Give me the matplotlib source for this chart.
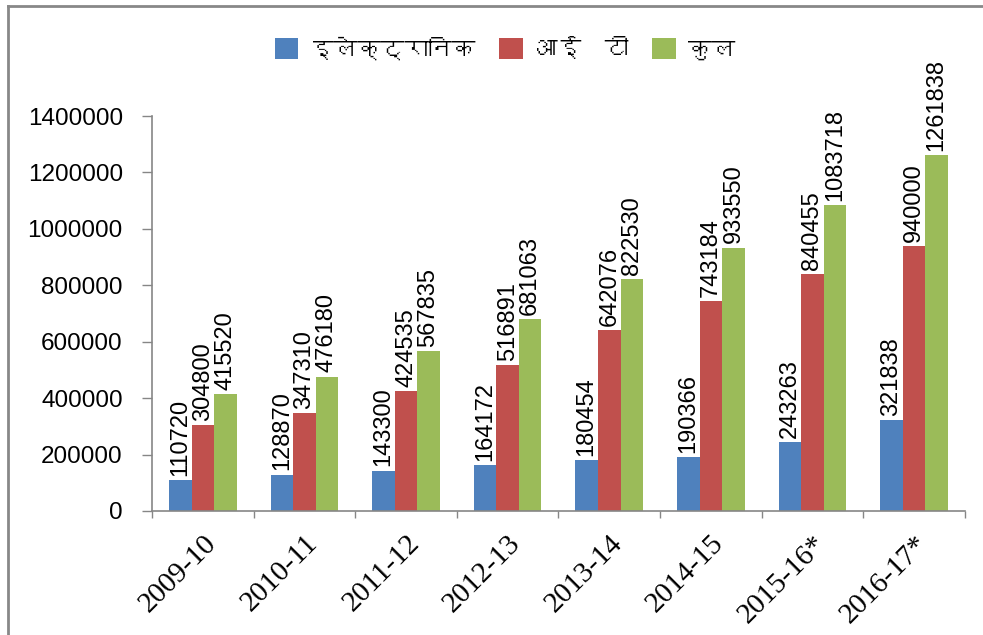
import matplotlib
matplotlib.use('Agg')
import matplotlib.pyplot as plt
from matplotlib import font_manager
from matplotlib.ft2font import FT2Font
from matplotlib.lines import Line2D
import numpy as np

years = ['2009-10', '2010-11', '2011-12', '2012-13', '2013-14',
         '2014-15', '2015-16*', '2016-17*']
electronics = [110720, 128870, 143300, 164172, 180454, 190366, 243263, 321838]
it = [304800, 347310, 424535, 516891, 642076, 743184, 840455, 940000]
total = [415520, 476180, 567835, 681063, 822530, 933550, 1083718, 1261838]
series_names = ['इलेक्ट्रानिक', 'आई  टी', 'कुल']
colors = ['#4F81BD', '#C0504D', '#9BBB59']
yticks = [0, 200000, 400000, 600000, 800000, 1000000, 1200000, 1400000]


def find_devanagari_font():
    # look for any installed font that has Devanagari glyphs
    for f in font_manager.fontManager.ttflist:
        try:
            cmap = FT2Font(f.fname).get_charmap()
        except Exception:
            continue
        if 0x0907 in cmap and 0x0915 in cmap:
            return f.name
    return None


deva = find_devanagari_font()
legend_family = [deva, 'DejaVu Sans'] if deva else ['DejaVu Sans']

plt.rcParams['font.family'] = ['Liberation Sans', 'DejaVu Sans']

fig = plt.figure(figsize=(9.83, 6.35), dpi=100)
ax = fig.add_axes([0.1546, 0.1953, 0.827, 0.622])

x = np.arange(len(years))
width = 0.222
gray = '#868686'

for i, (vals, name, c) in enumerate(zip([electronics, it, total], series_names, colors)):
    pos = x + (i - 1) * width
    ax.bar(pos, vals, width, color=c, label=name, edgecolor='none')
    for px, v in zip(pos, vals):
        ax.annotate(str(v), (px, v), xytext=(0, 3), textcoords='offset points',
                    rotation=90, ha='center', va='bottom', fontsize=17,
                    annotation_clip=False)

ax.set_xlim(-0.5, len(years) - 0.5)
ax.set_ylim(0, 1400000)
ax.set_yticks(yticks)
ax.set_yticklabels([str(t) for t in yticks], fontsize=17.5)
ax.tick_params(axis='y', length=7, width=1, color=gray, pad=14)

ax.set_xticks(x)
ax.set_xticklabels(years, rotation=45, ha='right', rotation_mode='anchor',
                   fontsize=21, family=['Liberation Serif', 'DejaVu Serif'])
ax.tick_params(axis='x', which='major', length=0, pad=14)
ax.set_xticks(np.arange(len(years) + 1) - 0.5, minor=True)
ax.tick_params(axis='x', which='minor', length=5, width=1, color=gray)

for s in ['top', 'right']:
    ax.spines[s].set_visible(False)
for s in ['left', 'bottom']:
    ax.spines[s].set_color(gray)
    ax.spines[s].set_linewidth(1.2)

leg = ax.legend(loc='center', bbox_to_anchor=(0.434, 1.172), ncol=3, frameon=False,
                prop={'family': legend_family, 'size': 17},
                handlelength=1.0, handleheight=1.0, handletextpad=0.5,
                columnspacing=1.0)

# outer frame lines (left and top only visible)
fig.add_artist(Line2D([0.0085, 0.0085], [0, 0.99], color='#888888', lw=2))
fig.add_artist(Line2D([0.0085, 1.0], [0.99, 0.99], color='#888888', lw=2))

fig.savefig('out.png', dpi=100)
